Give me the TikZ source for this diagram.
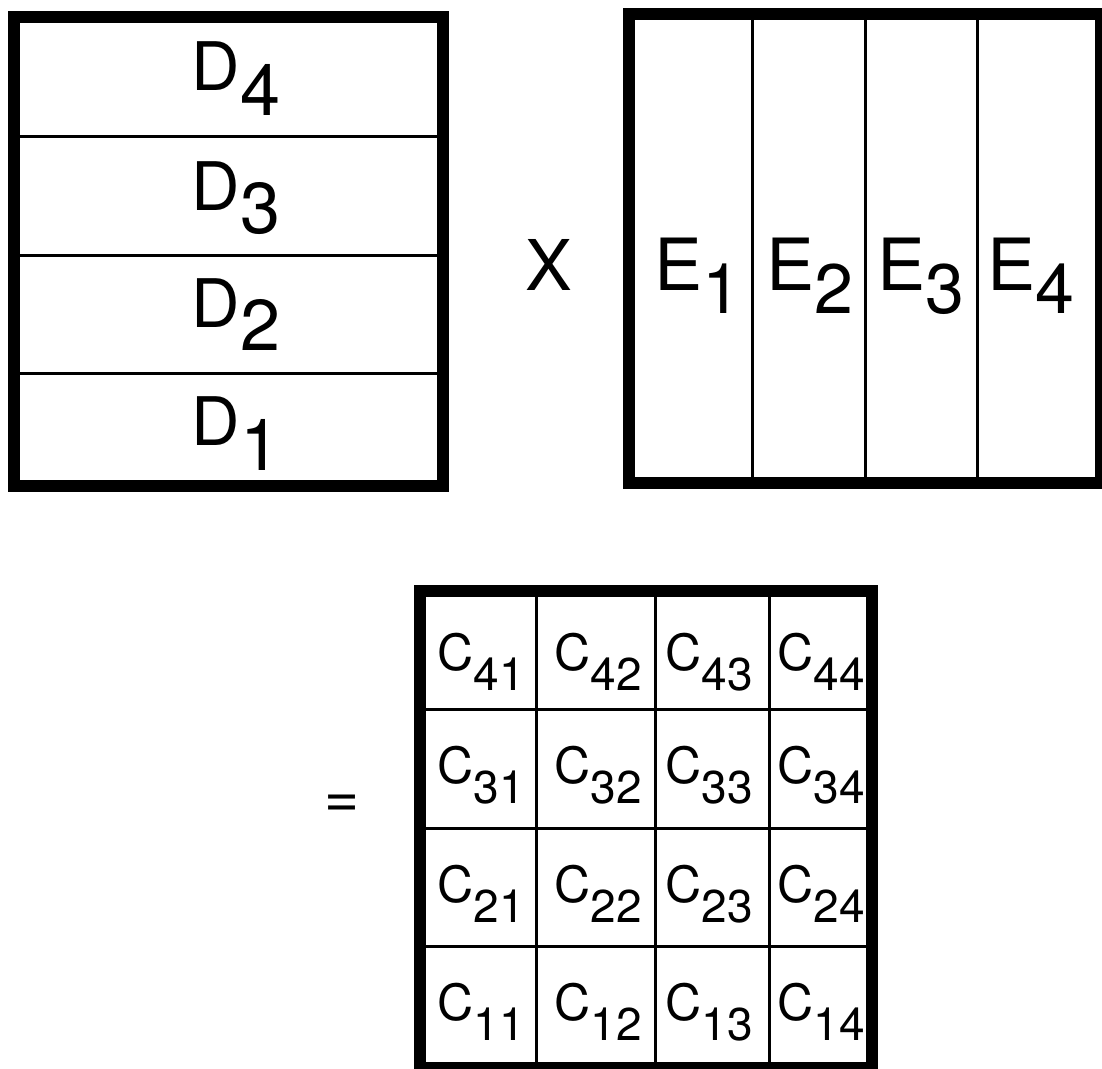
\documentclass[tikz,border=0pt]{standalone}
\usepackage{fontspec}
\setmainfont{TeX Gyre Heros}
\newcommand{\sublab}[5]{{\fontsize{#3}{#3}\selectfont #1}\raisebox{-#5pt}{\fontsize{#4}{#4}\selectfont #2}}
\begin{document}
\begin{tikzpicture}[x=1pt,y=-1pt,
  frame/.style={line width=12pt},
  divider/.style={line width=3pt},
  lab/.style={anchor=base west, inner sep=0pt, outer sep=0pt},
  sym/.style={anchor=center, inner sep=0pt, outer sep=0pt}]
\useasboundingbox (0,0) rectangle (1102,1068);
\fill[white] (0,0) rectangle (1102,1068);
% D matrix
\foreach \y in {136,255,373} \draw[divider] (13.5,\y) -- (443,\y);
\draw[frame] (13.5,16.5) rectangle (443,486);
\node[lab] (d4) at (191.7,90) {\sublab{D}{4}{67}{72}{25}};
\node[lab] (d3) at (191.7,210) {\sublab{D}{3}{67}{72}{23}};
\node[lab] (d2) at (191.7,327) {\sublab{D}{2}{67}{72}{23}};
\node[lab] (d1) at (191.7,445) {\sublab{D}{1}{67}{72}{25}};
% times
\node[sym] (times) at (549,265) {\fontsize{70}{70}\selectfont X};
% E matrix
\foreach \x in {752,865,977} \draw[divider] (\x,14) -- (\x,483);
\draw[frame] (628.5,14) rectangle (1101,483);
\node[lab] (e1) at (654.5,290) {\sublab{E}{1}{72}{70}{23}};
\node[lab] (e2) at (766.5,290) {\sublab{E}{2}{72}{70}{23}};
\node[lab] (e3) at (877.5,290) {\sublab{E}{3}{72}{70}{23}};
\node[lab] (e4) at (987.5,290) {\sublab{E}{4}{72}{70}{23}};
% equals
\node[sym] (eq) at (342,806) {\fontsize{60}{60}\selectfont =};
% C matrix
\foreach \x in {536,655,769} \draw[divider] (\x,591) -- (\x,1068);
\foreach \y in {709,828,946} \draw[divider] (420,\y) -- (871.5,\y);
\draw[frame] (420,591) rectangle (871.5,1068);
\foreach \r/\yb in {4/670,3/783,2/902,1/1020}{
  \foreach \c/\xl in {1/437.8,2/554.8,3/665.8,4/777.8}{
    \node[lab] (c\r\c) at (\xl,\yb) {\sublab{C}{\r\c}{50}{46}{20}};
  }
}
\end{tikzpicture}
\end{document}
